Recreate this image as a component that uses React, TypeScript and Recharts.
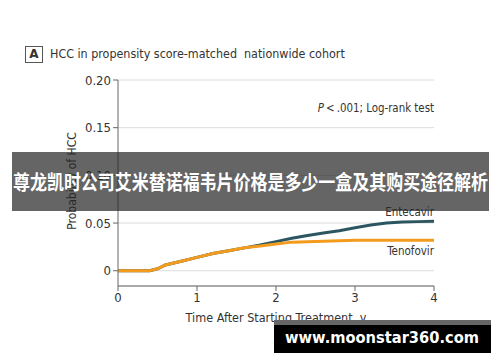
import { LineChart, Line, XAxis, YAxis, CartesianGrid, LabelList } from 'recharts'

const years = [0, 0.4, 0.5, 0.6, 0.8, 1.0, 1.2, 1.4, 1.6, 1.8, 2.0, 2.2, 2.4, 2.6, 2.8, 3.0, 3.2, 3.4, 3.6, 3.8, 4.0]
const entecavir = [0, 0, 0.002, 0.006, 0.01, 0.014, 0.018, 0.021, 0.024, 0.027, 0.0305, 0.034, 0.037, 0.0395, 0.042, 0.045, 0.048, 0.05, 0.051, 0.0515, 0.052]
const tenofovir = [0, 0, 0.002, 0.006, 0.01, 0.014, 0.018, 0.021, 0.024, 0.026, 0.028, 0.03, 0.0305, 0.031, 0.0315, 0.032, 0.032, 0.032, 0.032, 0.032, 0.032]
const xTicks = [0, 1, 2, 3, 4]
const yTicks = [0, 0.05, 0.1, 0.15, 0.2]

const FONT = "'DejaVu Sans Condensed', 'DejaVu Sans', sans-serif"
const CJK = "'Noto Sans CJK SC', sans-serif"

const data = years.map((t, i) => ({ t, ent: entecavir[i], ten: tenofovir[i] }))

function endLabel(text: string, dy: number) {
  return (props: any) => {
    if (props.index !== years.length - 1) return null
    return (
      <text x={props.x} y={props.y + dy} textAnchor="end" fontSize={11.5} fill="#333" fontFamily={FONT}>
        {text}
      </text>
    )
  }
}

export default function App() {
  return (
    <div style={{ position: 'absolute', left: 0, top: 0, width: 500, height: 362, background: '#fff', overflow: 'hidden', fontFamily: FONT }}>
      <LineChart width={500} height={362} data={data} margin={{ top: 80, right: 66, bottom: 46, left: 68 }}>
        <CartesianGrid vertical={false} stroke="#dcdcdc" />
        <XAxis
          dataKey="t"
          type="number"
          domain={[0, 4]}
          ticks={xTicks}
          tickSize={5}
          stroke="#666"
          tick={{ fill: '#333', fontSize: 13, fontFamily: FONT }}
          height={30}
        />
        <YAxis
          type="number"
          domain={[-0.016, 0.2]}
          ticks={yTicks}
          tickSize={5}
          stroke="#666"
          tick={{ fill: '#333', fontSize: 13, fontFamily: FONT }}
          tickFormatter={v => (v === 0 ? '0' : v.toFixed(2))}
          width={50}
        />
        <Line type="linear" dataKey="ent" stroke="#2b5661" strokeWidth={3} dot={false} isAnimationActive={false}>
          <LabelList content={endLabel('Entecavir', -5)} />
        </Line>
        <Line type="linear" dataKey="ten" stroke="#f29b1d" strokeWidth={3} dot={false} isAnimationActive={false}>
          <LabelList content={endLabel('Tenofovir', 15)} />
        </Line>
      </LineChart>

      {/* panel title */}
      <div style={{ position: 'absolute', left: 25, top: 46, width: 16, height: 15, border: '1px solid #555', fontSize: 12, fontWeight: 'bold', color: '#333', textAlign: 'center', lineHeight: '15px', fontFamily: 'DejaVu Sans, sans-serif' }}>A</div>
      <div style={{ position: 'absolute', left: 50, top: 46, fontSize: 12.4, color: '#333', whiteSpace: 'nowrap', lineHeight: '16px' }}>
        HCC in propensity score-matched&nbsp; nationwide cohort
      </div>
      <div style={{ position: 'absolute', right: 66, top: 100, fontSize: 11.4, color: '#333', whiteSpace: 'nowrap', lineHeight: '16px' }}>
        <i>P</i>&thinsp;&lt;&thinsp;.001; Log-rank test
      </div>
      <div style={{ position: 'absolute', left: 72, top: 181, transform: 'translate(-50%, -50%) rotate(-90deg)', fontSize: 12, color: '#333', whiteSpace: 'nowrap' }}>
        Probability of HCC
      </div>
      <div style={{ position: 'absolute', left: 276, top: 317, transform: 'translate(-50%, -50%)', fontSize: 12.5, color: '#333', whiteSpace: 'nowrap' }}>
        Time After Starting Treatment, y
      </div>

      {/* overlays */}
      <svg width={500} height={362} style={{ position: 'absolute', left: 0, top: 0 }}>
        <rect x={12} y={152} width={477} height={59} fill="rgba(36,36,36,0.7)" />
        <text x={13} y={190} textLength={475} lengthAdjust="spacingAndGlyphs" fill="#fff" fontFamily={CJK} fontWeight="bold" fontSize={20}>
          尊龙凯时公司艾米替诺福韦片价格是多少一盒及其购买途径解析
        </text>
        <rect x={274} y={320} width={217} height={5} fill="#666" />
        <rect x={274} y={325} width={217} height={28} fill="#000" />
        <text x={285} y={343} textLength={194} lengthAdjust="spacingAndGlyphs" fill="#fff" fontFamily="'DejaVu Sans', sans-serif" fontWeight="bold" fontSize={16}>
          www.moonstar360.com
        </text>
      </svg>
    </div>
  )
}
